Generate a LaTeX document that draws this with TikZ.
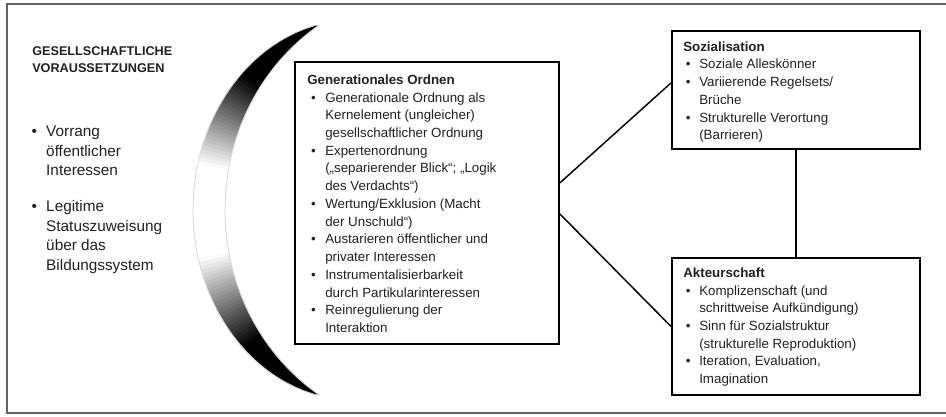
\documentclass[tikz,border=0pt]{standalone}
\usepackage{fontspec}
\setmainfont{Liberation Sans}
\usetikzlibrary{calc}
\definecolor{ink}{rgb}{0.13,0.13,0.13}
\definecolor{framegray}{rgb}{0.38,0.38,0.38}
% bullet lines: left column, middle box, right boxes
\newcommand{\lb}[1]{\makebox[11pt][l]{\textbullet}#1}
\newcommand{\lc}[1]{\hspace*{11pt}#1}
\newcommand{\mb}[1]{\makebox[13.5pt][l]{\hspace*{2.8pt}\textbullet}#1}
\newcommand{\mc}[1]{\hspace*{13.5pt}#1}
\newcommand{\rb}[1]{\makebox[12pt][l]{\hspace*{2pt}\textbullet}#1}
\newcommand{\rc}[1]{\hspace*{12pt}#1}
% fixed first-line height so that the north anchor sits a known distance above the first baseline
\newcommand{\firstline}[1]{\rule{0pt}{#1}}
\begin{document}
\begin{tikzpicture}[x=0.75pt,y=-0.75pt,
  box/.style={draw=black, line width=1.4pt, inner sep=0pt, anchor=north west},
  link/.style={draw=black, line width=1.1pt},
  txt/.style={anchor=north west, inner sep=0pt, align=left, text=ink},
  body/.style={txt, font=\fontsize{10}{13.3}\selectfont},
  side/.style={txt, font=\fontsize{11.5}{14.8}\selectfont},
  caps/.style={txt, font=\fontsize{9.5}{12.75}\selectfont\bfseries},
  frame/.style={draw=framegray, line width=1.2pt}]
\useasboundingbox (0,0) rectangle (946,417);
\fill[white] (0,0) rectangle (946,417);

% outer frame (open to the right)
\draw[frame] (946,4) -- (7,4) -- (7,413) -- (946,413);

% crescent with an angular grey ramp: dark at the tips, white in the middle
\def\crescent{plot[domain=-76.8:76.8, samples=90, variable=\t]
          ({353-160*cos(\t)},{210+190*sin(\t)})
        -- plot[domain=57.2:-57.2, samples=90, variable=\t]
          ({430.7-205.7*cos(\t)},{210+220*sin(\t)}) -- cycle}
\coordinate (cc) at (420,210);
\begin{scope}
  \clip \crescent;
  \foreach \a in {-66,...,65} {
    \pgfmathsetmacro{\k}{min(100,max(0,(abs(\a+0.5)-12)/26*100))}
    \fill[black!\k!white] (cc) -- +({180+\a-0.3}:420) -- +({180+\a+1.3}:420) -- cycle;
  }
\end{scope}
% faint rim so the pale middle part stays visible
\draw[black!14, line width=0.7pt, line join=round] \crescent;

% left column
\node[caps] (pre) at (32,43) {\firstline{9pt}GESELLSCHAFTLICHE\\VORAUSSETZUNGEN};
\node[side] (pre1) at (31.3,122.7) {\firstline{10pt}\lb{Vorrang}\\\lc{öffentlicher}\\\lc{Interessen}};
\node[side] (pre2) at (31.3,197.7) {\firstline{10pt}\lb{Legitime}\\\lc{Statuszuweisung}\\\lc{über das}\\\lc{Bildungssystem}};

% boxes
\node[box, minimum width=198pt, minimum height=211.5pt] (gen) at (294,61) {};
\node[box, minimum width=186pt, minimum height=88.5pt] (soz) at (671,30) {};
\node[box, minimum width=186pt, minimum height=102.75pt] (akt) at (671,257) {};

\node[body] (gentxt) at (307,72) {\firstline{9pt}\textbf{Generationales Ordnen}\\
  \mb{Generationale Ordnung als}\\
  \mc{Kernelement (ungleicher)}\\
  \mc{gesellschaftlicher Ordnung}\\
  \mb{Expertenordnung}\\
  \mc{(„separierender Blick“; „Logik}\\
  \mc{des Verdachts“)}\\
  \mb{Wertung/Exklusion (Macht}\\
  \mc{der Unschuld“)}\\
  \mb{Austarieren öffentlicher und}\\
  \mc{privater Interessen}\\
  \mb{Instrumentalisierbarkeit}\\
  \mc{durch Partikularinteressen}\\
  \mb{Reinregulierung der}\\
  \mc{Interaktion}};

\node[body] (soztxt) at (683,39) {\firstline{9pt}\textbf{Sozialisation}\\
  \rb{Soziale Alleskönner}\\
  \rb{Variierende Regelsets/}\\
  \rc{Brüche}\\
  \rb{Strukturelle Verortung}\\
  \rc{(Barrieren)}};

\node[body] (akttxt) at (683,265) {\firstline{9pt}\textbf{Akteurschaft}\\
  \rb{Komplizenschaft (und}\\
  \rc{schrittweise Aufkündigung)}\\
  \rb{Sinn für Sozialstruktur}\\
  \rc{(strukturelle Reproduktion)}\\
  \rb{Iteration, Evaluation,}\\
  \rc{Imagination}};

% connectors
\draw[link] ($(gen.east)+(0,-20)$) -- ($(soz.west)+(0,-7)$);
\draw[link] ($(gen.east)+(0,11)$) -- (akt.west);
\draw[link] (soz.south) -- (akt.north);
\end{tikzpicture}
\end{document}
